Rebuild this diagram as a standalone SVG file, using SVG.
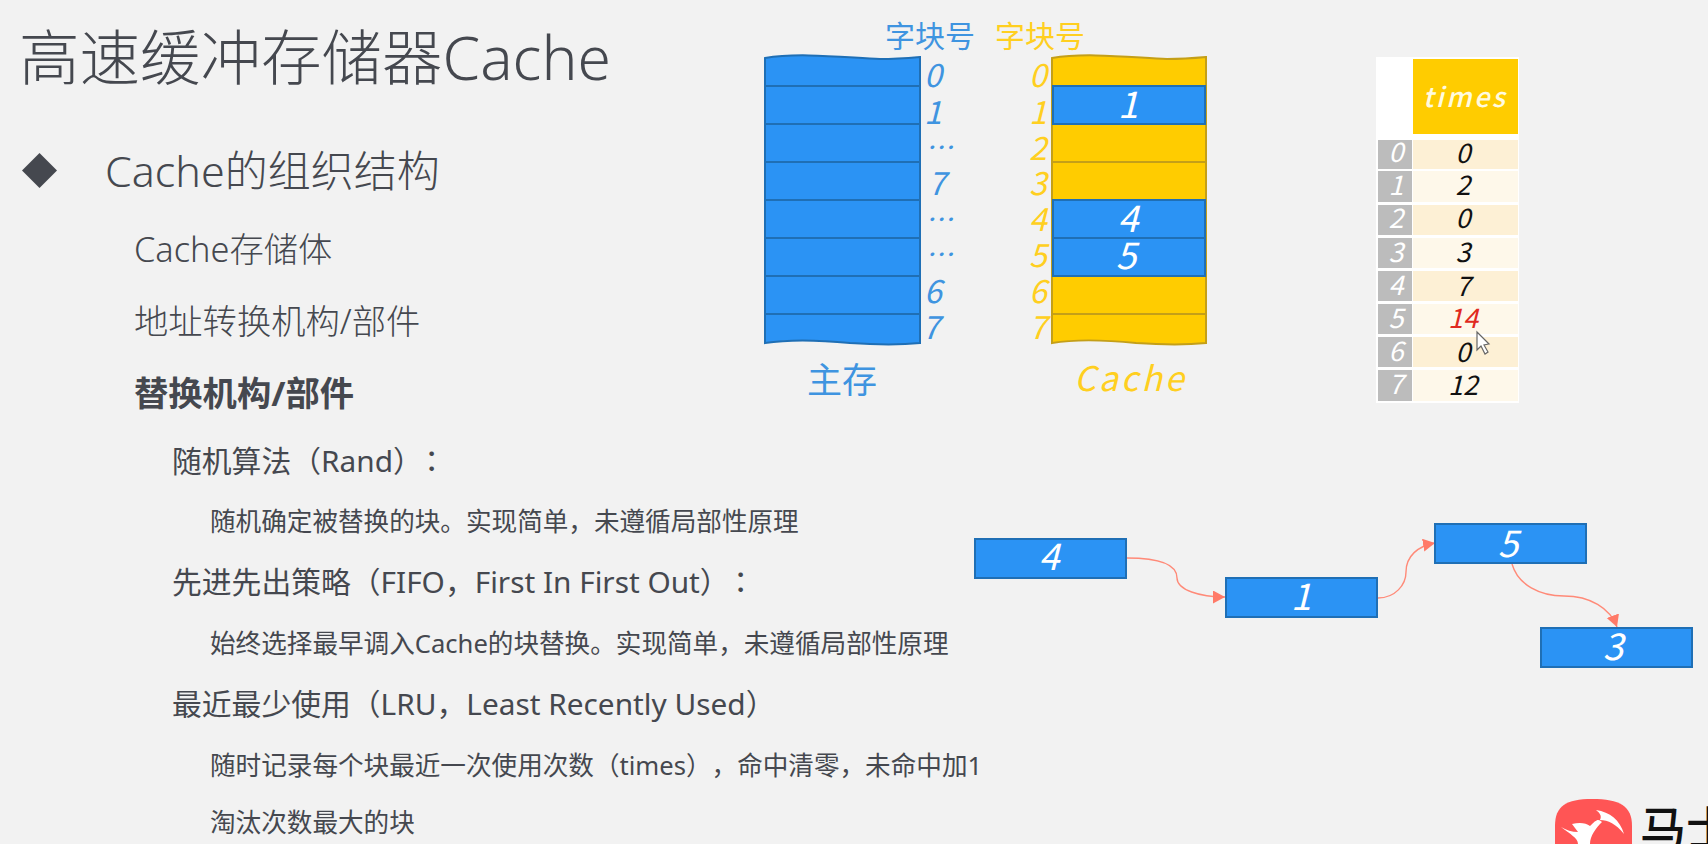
<svg xmlns="http://www.w3.org/2000/svg" width="1708" height="844" viewBox="0 0 1708 844">
<defs>
<marker id="ah" markerUnits="userSpaceOnUse" markerWidth="14" markerHeight="14" refX="12" refY="6.5" orient="auto"><path d="M0,0 L12,6.5 L0,13 Z" fill="#ff7a68"/></marker>
</defs>
<style>
text{font-family:"Noto Sans","Noto Sans CJK SC",sans-serif;fill:#45484f;text-spacing-trim:space-all}
.t{font-weight:300}
.l2{font-size:34.3px;font-weight:300}
.l3{font-size:29.8px}
.l4{font-size:25.6px}
.c{font-family:"Noto Sans CJK TC",sans-serif}
.i{font-family:"Noto Sans CJK SC","Noto Sans",sans-serif;font-style:italic}
.m{text-anchor:middle}
.bl{fill:#3f94e0}
.yl{fill:#ffcf20}
.w{fill:#fff}
.n{font-size:32px}
.d{font-size:28px}
.big{font-size:37px}
.tb{font-size:27px}
.k{fill:#111}
.blk{fill:#2b93f4;stroke:#1f6fb5;stroke-width:2}
.yb{fill:#ffcc00;stroke:#c49f18;stroke-width:2}
.ln{fill:none;stroke:#1f6fb5;stroke-width:2}
.lny{fill:none;stroke:#c49f18;stroke-width:2}
.cn{fill:none;stroke:#ff8a78;stroke-width:1.4;marker-end:url(#ah)}
</style>
<rect width="1708" height="844" fill="#f2f2f2"/>

<g id="outline">
<text class="t" x="19" y="80" font-size="60.5">高速缓冲存储器Cache</text>
<polygon points="39.5,153 57,170.5 39.5,188 22,170.5" fill="#45484f"/>
<text class="t" x="105" y="187" font-size="43">Cache的组织结构</text>
<text class="l2" x="134" y="262">Cache存储体</text>
<text class="l2" x="134" y="334">地址转换机构/部件</text>
<text x="134" y="406" font-size="34.3" font-weight="700">替换机构/部件</text>
<text class="l3" x="172" y="472">随机算法（Rand）<tspan class="c" dx="-6">：</tspan></text>
<text class="l4" x="210" y="531">随机确定被替换的块。实现简单，未遵循局部性原理</text>
<text class="l3" x="172" y="593">先进先出策略（FIFO，First In First Out）<tspan class="c" dx="-4">：</tspan></text>
<text class="l4" x="210" y="653">始终选择最早调入Cache的块替换。实现简单，未遵循局部性原理</text>
<text class="l3" x="172" y="715">最近最少使用（LRU，Least Recently Used）</text>
<text class="l4" x="210" y="775">随时记录每个块最近一次使用次数（times），命中清零，未命中加1</text>
<text class="l4" x="210" y="832">淘汰次数最大的块</text>
</g>

<g id="main-memory">
<path class="blk" d="M765,58 C800,52 850,58 880,59 C895,59 908,58 920,57 L920,343 C900,345 880,345 850,343 C820,340 790,339 765,343 Z"/>
<path class="ln" d="M765,86H920M765,124H920M765,162H920M765,200H920M765,238H920M765,276H920M765,314H920"/>
<text class="bl" x="885" y="47" font-size="30">字块号</text>
<text class="bl" x="807" y="393" font-size="35">主存</text>
<text class="i n m bl" x="933" y="87">0</text>
<text class="i n m bl" x="933" y="124">1</text>
<text class="i d m bl" x="939" y="158">…</text>
<text class="i n m bl" x="937" y="195">7</text>
<text class="i d m bl" x="939" y="230">…</text>
<text class="i d m bl" x="939" y="265">…</text>
<text class="i n m bl" x="933" y="303">6</text>
<text class="i n m bl" x="931" y="339">7</text>
</g>

<g id="cache">
<path class="yb" d="M1052,58 C1087,52 1137,58 1167,59 C1182,59 1195,58 1206,57 L1206,343 C1186,345 1166,345 1136,343 C1106,340 1076,339 1052,343 Z"/>
<path class="lny" d="M1052,162H1206M1052,314H1206"/>
<rect class="blk" x="1053" y="86" width="152" height="38"/>
<rect class="blk" x="1053" y="200" width="152" height="38"/>
<rect class="blk" x="1053" y="238" width="152" height="38"/>
<text class="yl" x="995" y="47" font-size="30">字块号</text>
<text class="i yl" x="1074" y="391" font-size="34" letter-spacing="3">Cache</text>
<text class="i n m yl" x="1038" y="87">0</text>
<text class="i n m yl" x="1038" y="124">1</text>
<text class="i n m yl" x="1038" y="160">2</text>
<text class="i n m yl" x="1038" y="195">3</text>
<text class="i n m yl" x="1038" y="231">4</text>
<text class="i n m yl" x="1038" y="267">5</text>
<text class="i n m yl" x="1038" y="303">6</text>
<text class="i n m yl" x="1038" y="339">7</text>
<text class="i big m w" x="1128" y="118">1</text>
<text class="i big m w" x="1128" y="232">4</text>
<text class="i big m w" x="1126" y="269">5</text>
</g>

<g id="times-table">
<rect x="1376" y="57" width="143" height="346" fill="#fff"/>
<rect x="1413" y="59" width="105" height="75" fill="#ffcc00"/>
<text class="i tb m" x="1465" y="107" font-weight="500" letter-spacing="2.5" style="fill:#fffbe0">times</text>
<g fill="#bcbcbc">
<rect x="1378" y="140" width="34" height="29"/><rect x="1378" y="171" width="34" height="31"/><rect x="1378" y="205" width="34" height="30"/><rect x="1378" y="238" width="34" height="30"/><rect x="1378" y="271" width="34" height="30"/><rect x="1378" y="304" width="34" height="30"/><rect x="1378" y="337" width="34" height="30"/><rect x="1378" y="370" width="34" height="31"/>
</g>
<g fill="#fdf0d5">
<rect x="1413" y="140" width="105" height="29"/><rect x="1413" y="205" width="105" height="30"/><rect x="1413" y="271" width="105" height="30"/><rect x="1413" y="337" width="105" height="30"/>
</g>
<g fill="#fef8ea">
<rect x="1413" y="171" width="105" height="31"/><rect x="1413" y="238" width="105" height="30"/><rect x="1413" y="304" width="105" height="30"/><rect x="1413" y="370" width="105" height="31"/>
</g>
<text class="i tb m w" x="1396" y="162">0</text>
<text class="i tb m w" x="1396" y="195">1</text>
<text class="i tb m w" x="1396" y="228">2</text>
<text class="i tb m w" x="1396" y="262">3</text>
<text class="i tb m w" x="1396" y="295">4</text>
<text class="i tb m w" x="1396" y="328">5</text>
<text class="i tb m w" x="1396" y="361">6</text>
<text class="i tb m w" x="1396" y="394">7</text>
<text class="i tb m k" x="1463" y="163">0</text>
<text class="i tb m k" x="1463" y="195">2</text>
<text class="i tb m k" x="1463" y="228">0</text>
<text class="i tb m k" x="1463" y="262">3</text>
<text class="i tb m k" x="1463" y="296">7</text>
<text class="i tb m" x="1463" y="328" style="fill:#e02a20">14</text>
<text class="i tb m k" x="1463" y="362">0</text>
<text class="i tb m k" x="1463" y="395">12</text>
<path d="M1477,332 L1477,350 L1481,346 L1485,354 L1488,352 L1484,345 L1489,344 Z" fill="#fff" stroke="#666" stroke-width="1.2"/>
</g>

<g id="connectors">
<path class="cn" d="M1127,558 C1160,558 1177,565 1177,578 C1177,590 1200,597 1225,597"/>
<path class="cn" d="M1378,598 C1395,598 1406,585 1406,572 C1406,556 1418,546 1435,543"/>
<path class="cn" d="M1512,564 C1518,585 1540,596 1564,596 C1590,596 1610,608 1617,627"/>
</g>

<g id="node-4"><rect class="blk" x="975" y="539" width="151" height="39"/><text class="i big m w" x="1049" y="570">4</text></g>
<g id="node-1"><rect class="blk" x="1226" y="578" width="151" height="39"/><text class="i big m w" x="1301" y="610">1</text></g>
<g id="node-5"><rect class="blk" x="1435" y="524" width="151" height="39"/><text class="i big m w" x="1508" y="557">5</text></g>
<g id="node-3"><rect class="blk" x="1541" y="628" width="151" height="39"/><text class="i big m w" x="1613" y="660">3</text></g>

<g id="logo">
<path d="M1555,844 L1555,826 C1555,806 1566,799 1592,799 C1620,799 1632,806 1632,826 L1632,844 Z" fill="#ff5555"/>
<path d="M1596,810 C1610,812 1620,820 1624,834 C1616,824 1608,820 1600,820 C1602,816 1600,813 1596,810 Z" fill="#fff"/>
<path d="M1572,824 C1580,822 1586,823 1590,826 C1596,820 1598,818 1602,822 C1596,828 1590,836 1590,844 L1578,844 C1578,838 1570,834 1561,827 C1566,830 1572,832 1578,832 C1576,829 1574,827 1572,824 Z" fill="#fff"/>
<text x="1640" y="845" font-size="46" font-weight="500" style="fill:#111">马士</text>
</g>
</svg>
